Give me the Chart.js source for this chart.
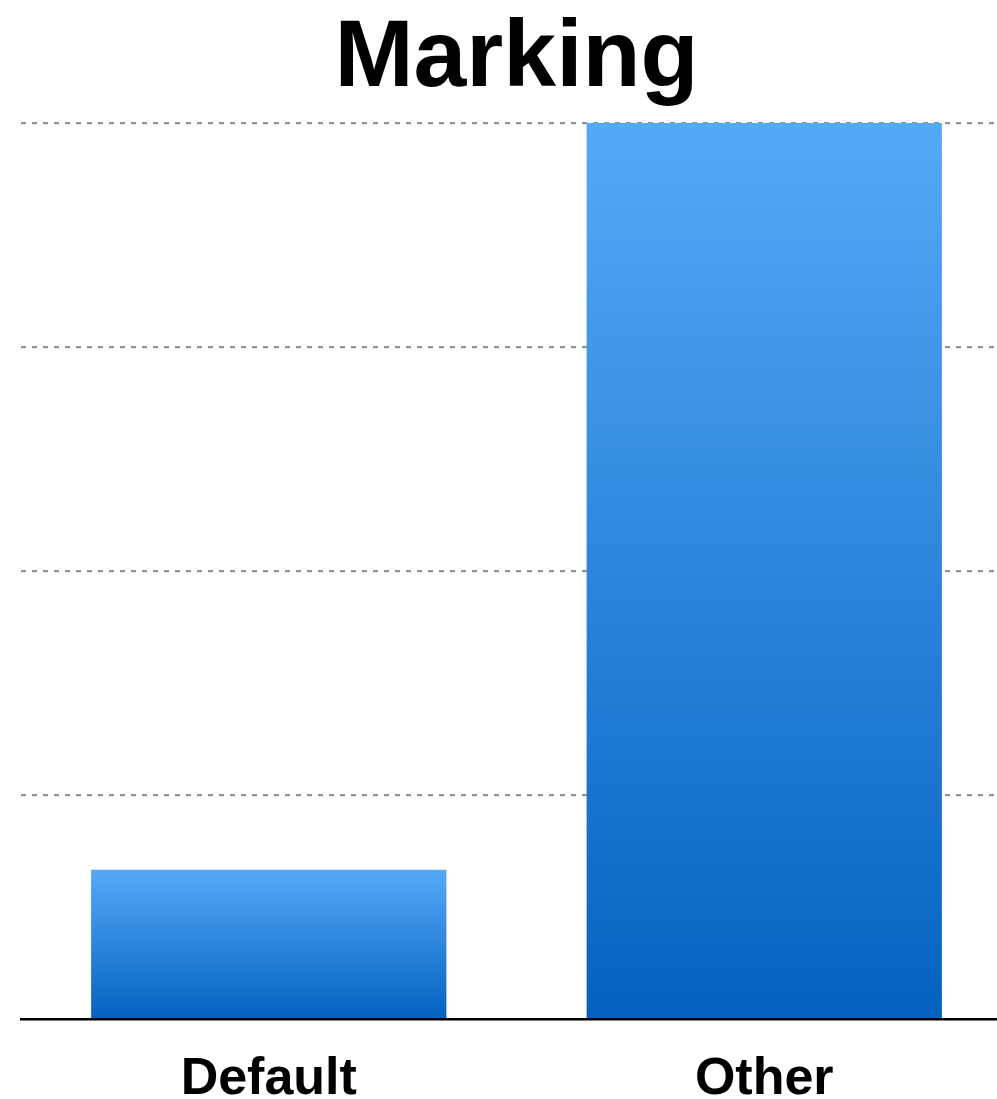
<!DOCTYPE html>
<html>
<head>
<meta charset="utf-8">
<script src="https://cdn.jsdelivr.net/npm/chart.js@4/dist/chart.umd.min.js"></script>
<style>
  html, body { margin: 0; padding: 0; background: #fff; overflow: hidden; }
  #clip { width: 997px; height: 1099px; overflow: hidden; }
  #wrap { width: 1012px; height: 1099px; }
</style>
</head>
<body>
<div id="clip"><div id="wrap"><canvas id="marking_chart"></canvas></div></div>
<script>
// chart data
var categories = ['Default', 'Other'];
var counts = [1, 6];
var yTicks = [0, 1.5, 3, 4.5, 6];

// each bar gets its own light-to-dark gradient, top to base
function barGradient(ctx) {
  var chart = ctx.chart;
  if (!chart.chartArea || ctx.type !== 'data') return '#2a87e0';
  var y = chart.scales.y;
  var top = y.getPixelForValue(ctx.raw);
  var base = y.getPixelForValue(0);
  var g = chart.ctx.createLinearGradient(0, top, 0, base);
  g.addColorStop(0, '#55a9f9');
  g.addColorStop(1, '#0462bf');
  return g;
}

const config = {
  type: 'bar',
  data: {
    labels: categories,
    datasets: [{
      data: counts,
      backgroundColor: barGradient,
      borderWidth: 0,
      categoryPercentage: 1,
      barPercentage: 0.717
    }]
  },
  options: {
    responsive: true,
    maintainAspectRatio: false,
    animation: false,
    layout: { padding: { left: 21, right: 0, top: 0, bottom: -42 } },
    plugins: {
      legend: { display: false },
      tooltip: { enabled: false },
      title: {
        display: true,
        text: 'Marking',
        fullSize: false,
        color: '#000',
        font: { family: 'Liberation Sans', size: 95, weight: 'bold', lineHeight: 1 },
        padding: { top: 12, bottom: 16 }
      }
    },
    scales: {
      x: {
        grid: { display: false, drawTicks: false },
        border: { display: true, color: '#000', width: 2.5 },
        ticks: {
          color: '#000',
          padding: 35,
          font: { family: 'Liberation Sans', size: 52, weight: 'bold', lineHeight: 1 }
        }
      },
      y: {
        min: 0,
        max: yTicks[yTicks.length - 1],
        afterBuildTicks: function(scale) {
          scale.ticks = yTicks.map(function(v) { return { value: v }; });
        },
        afterFit: function(scale) { scale.width = 0; },
        ticks: { display: false },
        grid: {
          drawTicks: false,
          lineWidth: 2.2,
          color: function(c) { return c.tick && c.tick.value === 0 ? 'rgba(0,0,0,0)' : '#929292'; }
        },
        border: { display: false, dash: [5, 6] }
      }
    }
  }
};

window.onload = function() {
  var ctx = document.getElementById('marking_chart').getContext('2d');
  window.markingChart = new Chart(ctx, config);
};
</script>
</body>
</html>
